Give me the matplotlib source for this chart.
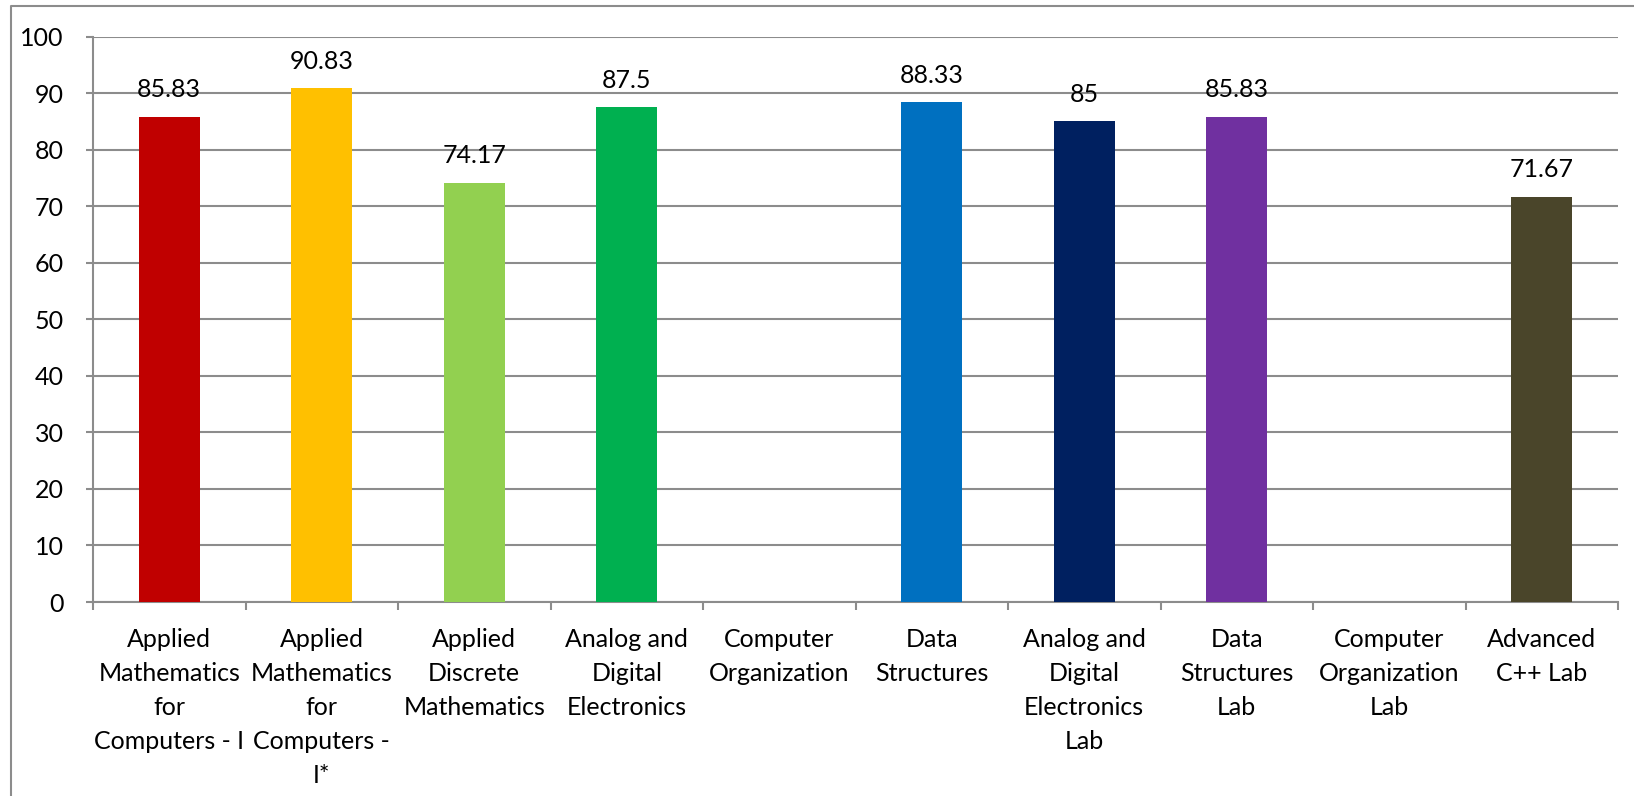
import numpy as np
import matplotlib.pyplot as plt
from matplotlib.lines import Line2D

# Subject-wise results (blank bars have no data)
subjects = [
    "Applied\nMathematics\nfor\nComputers - I",
    "Applied\nMathematics\nfor\nComputers -\nI*",
    "Applied\nDiscrete\nMathematics",
    "Analog and\nDigital\nElectronics",
    "Computer\nOrganization",
    "Data\nStructures",
    "Analog and\nDigital\nElectronics\nLab",
    "Data\nStructures\nLab",
    "Computer\nOrganization\nLab",
    "Advanced\nC++ Lab",
]
scores = [85.83, 90.83, 74.17, 87.5, None, 88.33, 85, 85.83, None, 71.67]
colors = ["#C00000", "#FFC000", "#92D050", "#00B050", "#FFFFFF",
          "#0070C0", "#002060", "#7030A0", "#FFFFFF", "#4A452A"]

plt.rcParams['font.family'] = ['Lato', 'DejaVu Sans']
grid_col = "#8C8C8C"

fig = plt.figure(figsize=(16.34, 7.96), dpi=100)
ax = fig.add_axes([93/1634, 1 - 602/796, (1618 - 93)/1634, (602 - 36.5)/796])

x = np.arange(len(subjects))
vals = [np.nan if v is None else v for v in scores]
bars = ax.bar(x, vals, width=0.40, color=colors, zorder=3)

for xi, v in zip(x, scores):
    if v is None:
        continue
    ax.annotate(f"{v:g}", (xi, v), xytext=(0, 14), textcoords="offset points",
                ha="center", va="baseline", fontsize=18, color="black")

ax.set_xlim(-0.5, len(subjects) - 0.5)
ax.set_ylim(0, 100)
ax.set_yticks(range(0, 101, 10))
ax.yaxis.grid(True, color=grid_col, linewidth=1.5, zorder=0)

# category boundary ticks on x axis
ax.set_xticks(np.arange(-0.5, len(subjects), 1.0))
ax.set_xticklabels([])
ax.set_xticks(x, minor=True)
ax.set_xticklabels(subjects, minor=True, fontsize=18, linespacing=1.57)
ax.tick_params(axis="x", which="minor", length=0, pad=19)
ax.tick_params(axis="x", which="major", length=6, width=1.5, color=grid_col)
ax.tick_params(axis="y", length=5, width=1.5, color=grid_col, pad=16, labelsize=18)

for side in ["top", "right"]:
    ax.spines[side].set_visible(False)
for side in ["left", "bottom"]:
    ax.spines[side].set_color(grid_col)
    ax.spines[side].set_linewidth(1.5)

# outer chart frame
fig.add_artist(Line2D([11/1634, 11/1634, 1.0], [0.0, 1 - 6/796, 1 - 6/796],
                      transform=fig.transFigure, color=grid_col, linewidth=1.5))

fig.savefig("out.png", dpi=100)
